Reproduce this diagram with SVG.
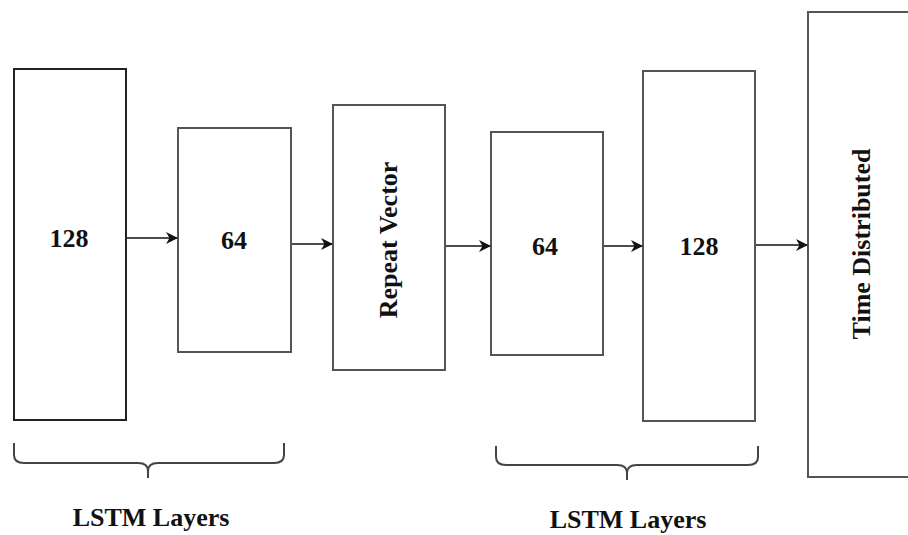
<svg xmlns="http://www.w3.org/2000/svg" width="908" height="535" viewBox="0 0 908 535">
  <style>
    .box { fill: #ffffff; stroke: #555555; stroke-width: 2; }
    .lbl { font-family: "Liberation Serif", "Times New Roman", serif; font-weight: bold; font-size: 26px; fill: #111111; text-anchor: middle; }
    .cap { font-family: "Liberation Serif", "Times New Roman", serif; font-weight: bold; font-size: 26px; fill: #111111; text-anchor: middle; }
    .edge { stroke: #111111; stroke-width: 1.6; fill: none; marker-end: url(#arrow); }
    .brace { stroke: #444444; stroke-width: 2; fill: none; }
  </style>
  <defs>
    <marker id="arrow" markerWidth="12" markerHeight="12" refX="11" refY="6" orient="auto" markerUnits="userSpaceOnUse">
      <path d="M0,0 L12,6 L0,12 L3.5,6 Z" fill="#111111"/>
    </marker>
  </defs>
  <rect width="908" height="535" fill="#ffffff"/>

  <g id="lstm-enc-128">
    <rect class="box" x="14" y="69" width="112" height="351" style="stroke:#222"/>
    <text class="lbl" x="69" y="247">128</text>
  </g>
  <g id="lstm-enc-64">
    <rect class="box" x="178" y="128" width="113" height="224"/>
    <text class="lbl" x="234" y="249">64</text>
  </g>
  <g id="repeat-vector">
    <rect class="box" x="333" y="105" width="112" height="265"/>
    <text class="lbl" transform="translate(397,240) rotate(-90)">Repeat Vector</text>
  </g>
  <g id="lstm-dec-64">
    <rect class="box" x="491" y="132" width="112" height="223"/>
    <text class="lbl" x="545" y="255">64</text>
  </g>
  <g id="lstm-dec-128">
    <rect class="box" x="643" y="71" width="112" height="350"/>
    <text class="lbl" x="699" y="255">128</text>
  </g>
  <g id="time-distributed">
    <rect class="box" x="808" y="12" width="120" height="465"/>
    <text class="lbl" transform="translate(870,244) rotate(-90)">Time Distributed</text>
  </g>

  <g id="connectors">
    <line class="edge" x1="127" y1="238" x2="177" y2="238"/>
    <line class="edge" x1="292" y1="244" x2="332" y2="244"/>
    <line class="edge" x1="446" y1="246" x2="490" y2="246"/>
    <line class="edge" x1="604" y1="246" x2="642" y2="246"/>
    <line class="edge" x1="756" y1="245" x2="807" y2="245"/>
  </g>

  <g id="encoder-brace">
    <path class="brace" d="M14,443 L14,455 Q14,463 24,463 L138,463 Q148,463 148,471 L148,478 M148,471 Q148,463 158,463 L274,463 Q284,463 284,455 L284,443"/>
    <text class="cap" x="151" y="526">LSTM Layers</text>
  </g>
  <g id="decoder-brace">
    <path class="brace" d="M496,446 L496,457 Q496,465 506,465 L617,465 Q627,465 627,473 L627,480 M627,473 Q627,465 637,465 L748,465 Q758,465 758,457 L758,446"/>
    <text class="cap" x="628" y="528">LSTM Layers</text>
  </g>
</svg>
